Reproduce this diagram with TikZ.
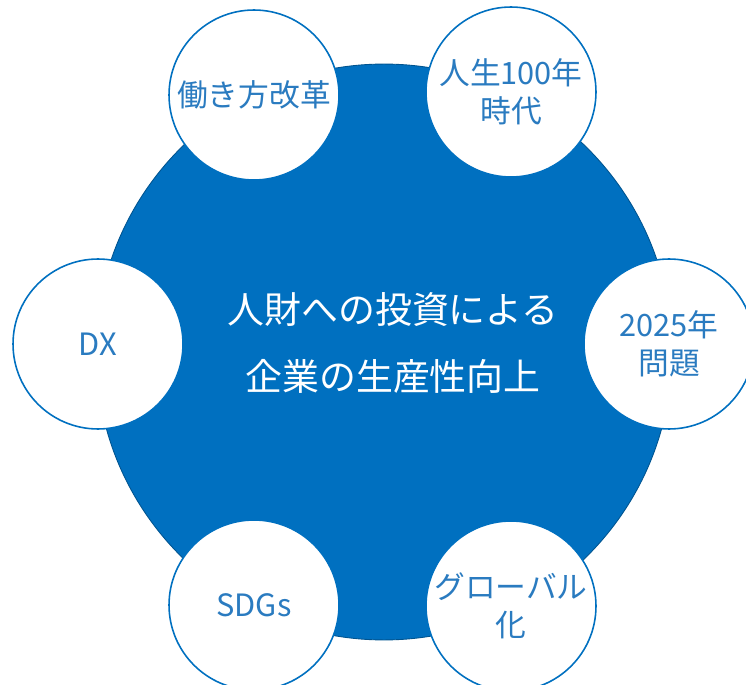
\documentclass[tikz,border=0pt]{standalone}
\usepackage{fontspec}
\setmainfont{Noto Sans CJK JP}
\definecolor{mainblue}{HTML}{0070C0}
\definecolor{topicblue}{HTML}{2A7BC0}
\begin{document}
\begin{tikzpicture}[x=0.02cm, y=-0.02cm,
    core/.style={circle, fill=mainblue, draw=mainblue!75!black, line width=0.5pt, minimum size=11.52cm, inner sep=0pt},
    theme/.style={align=center, text=white, font=\fontsize{21}{38}\selectfont},
    topic/.style={circle, draw=mainblue, line width=0.9pt, fill=white, minimum size=3.4cm, inner sep=0pt, align=center, text=topicblue, font=\fontsize{17.5}{21.5}\selectfont}]
  \useasboundingbox (0,0) rectangle (746,685);
  % centre
  \node[core] (hub) at (384,352) {};
  \node[theme] (goal) at (393,343) {人財への投資による\\企業の生産性向上};
  % surrounding topics
  \node[topic] (work)   at (254,95)  {働き方改革};
  \node[topic] (life)   at (511,92)  {人生100年\\時代};
  \node[topic] (dx)     at (98,344)  {DX};
  \node[topic] (issue)  at (669,344) {2025年\\問題};
  \node[topic] (sdgs)   at (254,605) {SDGs};
  \node[topic] (global) at (511,606) {グローバル\\化};
\end{tikzpicture}
\end{document}
